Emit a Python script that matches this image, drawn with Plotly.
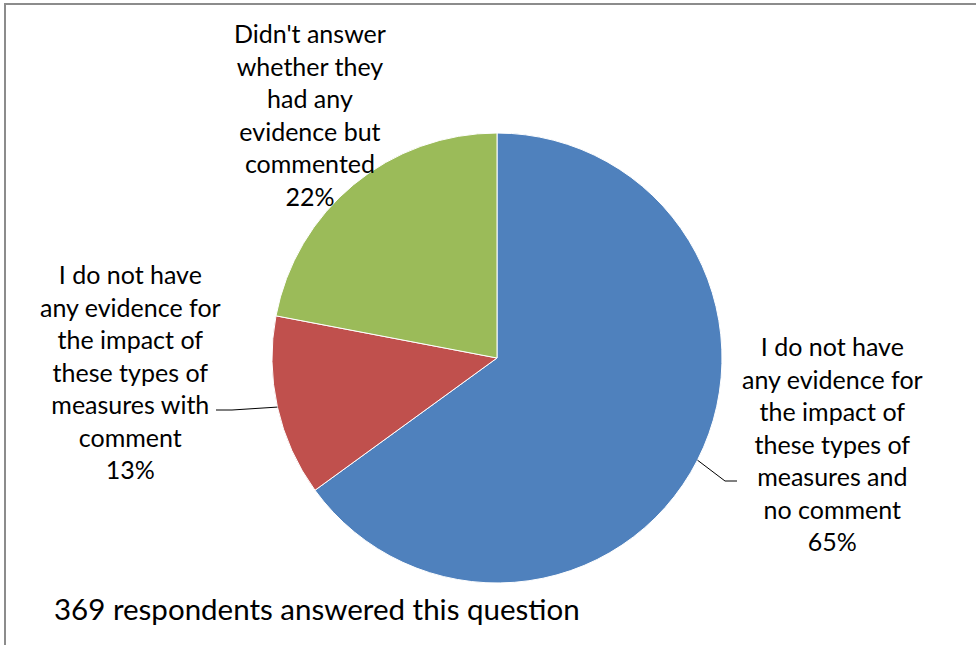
import math
import plotly.graph_objects as go

labels = [
    "I do not have<br>any evidence for<br>the impact of<br>these types of<br>measures and<br>no comment",
    "I do not have<br>any evidence for<br>the impact of<br>these types of<br>measures with<br>comment",
    "Didn't answer<br>whether they<br>had any<br>evidence but<br>commented",
]
values = [65, 13, 22]
colors = ["#4F81BD", "#C0504D", "#9BBB59"]
footnote = "369 respondents answered this question"

W, H = 976, 645
CX, CY, R = 497, 358, 225  # pie centre / radius in pixels

FONT = "Lato"
TXT = "#000000"

fig = go.Figure(go.Pie(
    labels=[l.replace("<br>", " ") for l in labels],
    values=values,
    sort=False,
    direction="clockwise",
    rotation=0,
    textinfo="none",
    hoverinfo="label+percent",
    marker=dict(colors=colors, line=dict(color="#FFFFFF", width=1)),
    domain=dict(x=[(CX - R) / W, (CX + R) / W], y=[1 - (CY + R) / H, 1 - (CY - R) / H]),
    showlegend=False,
))

def px(x):
    return x / W

def py(y):
    return 1 - y / H

# label positions (pixel centres) and leader line settings
label_pos = [(832, 443), (130, 371), (310, 115)]
leader = [True, True, False]
leader_end = [(737, 481), (216, 410), None]
leader_elbow = [(725, 481), (232, 410), None]

total = sum(values)
cum = 0
annotations = []
shapes = []
for i, v in enumerate(values):
    pct = round(100 * v / total)
    mid = (cum + v / 2) / total * 2 * math.pi
    cum += v
    ex = CX + R * math.sin(mid)
    ey = CY - R * math.cos(mid)
    lx, ly = label_pos[i]
    annotations.append(dict(
        x=px(lx), y=py(ly), xref="paper", yref="paper",
        text=f"{labels[i]}<br>{pct}%", showarrow=False,
        xanchor="center", yanchor="middle", align="center",
        font=dict(family=FONT, size=25, color=TXT),
    ))
    if leader[i]:
        (bx, by), (fx, fy) = leader_elbow[i], leader_end[i]
        shapes.append(dict(
            type="path", xref="paper", yref="paper",
            path=f"M {px(ex)} {py(ey)} L {px(bx)} {py(by)} L {px(fx)} {py(fy)}",
            line=dict(color="#000000", width=1),
        ))

annotations.append(dict(
    x=px(52), y=py(608), xref="paper", yref="paper",
    text=footnote, showarrow=False, xanchor="left", yanchor="middle",
    font=dict(family=FONT, size=29.5, color=TXT),
))

# chart frame (top and left edges visible, rest cropped)
shapes.append(dict(
    type="rect", xref="paper", yref="paper",
    x0=px(5), y0=py(700), x1=px(1100), y1=py(4),
    line=dict(color="#8C8C8C", width=2), fillcolor="rgba(0,0,0,0)",
))

fig.update_layout(
    width=W, height=H,
    margin=dict(l=0, r=0, t=0, b=0),
    paper_bgcolor="#FFFFFF", plot_bgcolor="#FFFFFF",
    annotations=annotations, shapes=shapes,
)

fig.write_html("out.html")
